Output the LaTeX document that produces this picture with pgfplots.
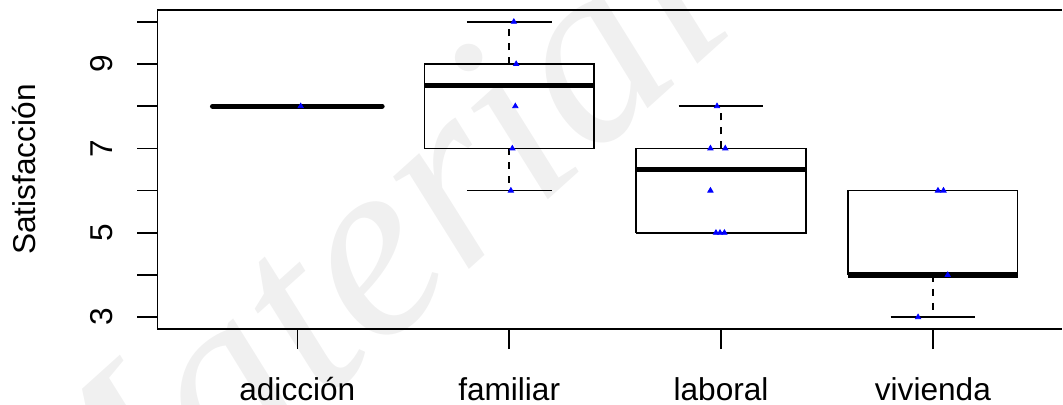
\documentclass[border=0pt]{standalone}
\usepackage{fontspec}
\setmainfont{Liberation Sans}
\newfontfamily\wmfont{Liberation Serif}
\usepackage{pgfplots}
\pgfplotsset{compat=1.18}
\usetikzlibrary{calc}
\begin{document}
\begin{tikzpicture}
% watermark (background)
\node[rotate=42, text=black!6, font={\wmfont\itshape\fontsize{130}{140}\selectfont}, anchor=center] at (93pt,32.5pt) {Material};
\begin{axis}[
  scale only axis,
  width=452pt, height=159.5pt,
  xmin=0.34, xmax=4.607,
  ymin=2.72, ymax=10.28,
  axis x line*=box, axis y line*=left,
  axis line style={line width=0.8pt, -},
  xtick={1,2,3,4},
  xticklabels={adicción,familiar,laboral,vivienda},
  ytick={3,4,5,6,7,8,9,10},
  yticklabels={3,,5,,7,,9,},
  xtick pos=bottom, ytick pos=left,
  tick align=outside,
  major tick length=10pt,
  every tick/.style={black, line width=0.8pt},
  tick label style={font=\fontsize{15.8}{19}\selectfont, inner sep=0pt},
  xticklabel style={anchor=base, yshift=-25.5pt},
  yticklabel style={xshift=-12.25pt, rotate=90, anchor=base},
  ylabel={Satisfacción},
  ylabel style={font=\fontsize{15.8}{19}\selectfont, at={(axis description cs:-0.1344,0.5)}, anchor=base, inner sep=0pt},
  clip=false,
]
% boxes
\addplot[black, line width=0.8pt, line join=miter] coordinates {(0.6,8) (1.4,8)};
\addplot[black, line width=0.8pt, line join=miter] coordinates {(1.6,7) (2.4,7) (2.4,9) (1.6,9) (1.6,7)};
\addplot[black, line width=0.8pt, line join=miter] coordinates {(2.6,5) (3.4,5) (3.4,7) (2.6,7) (2.6,5)};
\addplot[black, line width=0.8pt, line join=miter] coordinates {(3.6,4) (4.4,4) (4.4,6) (3.6,6) (3.6,4)};
% whiskers (dashed)
\addplot[black, line width=0.8pt, dash pattern=on 3.5pt off 3.5pt] coordinates {(2,9) (2,10)};
\addplot[black, line width=0.8pt, dash pattern=on 3.5pt off 3.5pt] coordinates {(2,7) (2,6)};
\addplot[black, line width=0.8pt, dash pattern=on 3.5pt off 3.5pt] coordinates {(3,7) (3,8)};
\addplot[black, line width=0.8pt, dash pattern=on 3.5pt off 3.5pt] coordinates {(4,4) (4,3)};
% whisker caps
\addplot[black, line width=0.8pt] coordinates {(0.8,8) (1.2,8)};
\addplot[black, line width=0.8pt] coordinates {(1.8,10) (2.2,10)};
\addplot[black, line width=0.8pt] coordinates {(1.8,6) (2.2,6)};
\addplot[black, line width=0.8pt] coordinates {(2.8,8) (3.2,8)};
\addplot[black, line width=0.8pt] coordinates {(2.8,5) (3.2,5)};
\addplot[black, line width=0.8pt] coordinates {(3.8,6) (4.2,6)};
\addplot[black, line width=0.8pt] coordinates {(3.8,3) (4.2,3)};
% medians
\addplot[black, line width=2.6pt, line cap=round] coordinates {(0.6,8) (1.4,8)};
\addplot[black, line width=2.6pt] coordinates {(1.6,8.5) (2.4,8.5)};
\addplot[black, line width=2.6pt] coordinates {(2.6,6.5) (3.4,6.5)};
\addplot[black, line width=2.6pt] coordinates {(3.6,4) (4.4,4)};
% points
\addplot[only marks, mark=triangle*, mark size=1.5pt, blue, mark options={fill=blue, draw=blue}] coordinates {
(1.016,8)
(2.022,10) (2.033,9) (2.029,8) (2.015,7) (2.008,6)
(2.981,8) (2.95,7) (3.02,7) (2.95,6) (2.976,5) (2.995,5) (3.016,5)
(4.024,6) (4.05,6) (4.07,4) (3.93,3)
};
\coordinate (sw) at (rel axis cs:0,0);
\coordinate (ne) at (rel axis cs:1,1);
\end{axis}
\pgfresetboundingbox
\path[use as bounding box] ($(sw)+(-78.75pt,-37.5pt)$) rectangle ($(ne)+(0.75pt,5pt)$);
\end{tikzpicture}
\end{document}
